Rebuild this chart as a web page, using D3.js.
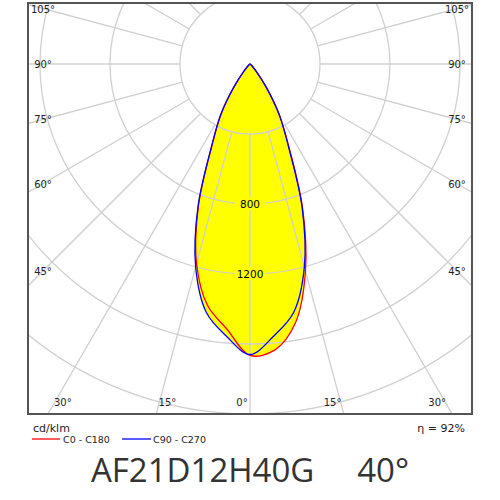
<!DOCTYPE html>
<html><head><meta charset="utf-8">
<script src="https://cdn.jsdelivr.net/npm/d3@7"></script>
<style>body{margin:0;background:#fff}</style></head>
<body><svg id="c" width="500" height="500"></svg>
<script>
const gammas = [0,5,10,15,20,25,30,35,40,45,50,60,70,80,90];
const c0   = [1665,1640,1500,1225,880,530,330,160,60,20,8,3,1,0,0];
const c180 = [1665,1520,1400,1180,860,515,330,160,60,20,8,3,1,0,0];
const c90  = [1660,1560,1440,1200,870,520,335,160,60,20,8,3,1,0,0];
const c270 = [1660,1560,1440,1200,870,520,335,160,60,20,8,3,1,0,0];
const ringValues = [400,800,1200,1600,2000,2400];
const ringLabels = [800,1200];
const spokeAngles = d3.range(-180,181,15);
const edgeLabels = [105,90,75,60,45,30,15,0];

const svg = d3.select("#c");
const box = {x0:28,y0:3,x1:472,y1:414};
const cx=250, cy=64;
const r = d3.scaleLinear().domain([0,2000]).range([0,350]);
const pt = (deg,v)=>{const a=deg*Math.PI/180;return [cx+r(v)*Math.sin(a), cy+r(v)*Math.cos(a)];};

svg.append("clipPath").attr("id","clip").append("rect")
 .attr("x",box.x0).attr("y",box.y0).attr("width",box.x1-box.x0).attr("height",box.y1-box.y0);
const g = svg.append("g").attr("clip-path","url(#clip)");

function curve(right,left){
  const pts=[];
  for(let i=gammas.length-1;i>=0;i--) pts.push(pt(-gammas[i],left[i]));
  for(let i=1;i<gammas.length;i++) pts.push(pt(gammas[i],right[i]));
  return d3.line().curve(d3.curveCatmullRom)(pts);
}
g.append("path").attr("d",curve(c0,c180)).attr("fill","#ffff00");
g.append("path").attr("d",curve(c90,c270)).attr("fill","#ffff00");

ringValues.forEach(v=>g.append("circle").attr("cx",cx).attr("cy",cy).attr("r",r(v))
  .attr("fill","none").attr("stroke","#d0d0d0").attr("stroke-width",1.3));
spokeAngles.forEach(a=>{const p0=pt(a,400),p1=pt(a,3000);
  g.append("line").attr("x1",p0[0]).attr("y1",p0[1]).attr("x2",p1[0]).attr("y2",p1[1])
   .attr("stroke","#d0d0d0").attr("stroke-width",1.3);});

ringLabels.forEach(v=>{const p=pt(0,v);
  g.append("rect").attr("x",p[0]-15).attr("y",p[1]-7).attr("width",30).attr("height",13).attr("fill","#ffff00");
  g.append("text").attr("x",p[0]).attr("y",p[1]+4).attr("text-anchor","middle")
   .attr("font-family","DejaVu Sans").attr("font-size",10.5).text(v);});

g.append("path").attr("d",curve(c0,c180)).attr("fill","none").attr("stroke","#ff0000").attr("stroke-width",1.3);
g.append("path").attr("d",curve(c90,c270)).attr("fill","none").attr("stroke","#0000ff").attr("stroke-width",1.3);

svg.append("rect").attr("x",box.x0).attr("y",box.y0).attr("width",box.x1-box.x0).attr("height",box.y1-box.y0)
 .attr("fill","none").attr("stroke","#555").attr("stroke-width",2);

// edge labels
const inner={x0:43,x1:457,y1:402};
edgeLabels.forEach(a=>{
  [1,-1].forEach(s=>{
    if(a===0&&s<0) return;
    const rad=a*Math.PI/180; let x,y;
    const dx=Math.sin(rad), dy=Math.cos(rad);
    const tB = dy>0 ? (inner.y1-cy)/dy : Infinity;
    const tS = (inner.x1-cx)/Math.abs(dx||1e-9);
    if(tB<tS){x=cx+s*dx*tB-s*8;y=inner.y1+4;} else {x=s>0?inner.x1:inner.x0;y=cy+dy*tS+4;}
    svg.append("text").attr("x",x).attr("y",y).attr("text-anchor","middle")
      .attr("font-family","DejaVu Sans").attr("font-size",10).attr("fill","#222").text(a+"°");
  });
});

svg.append("text").attr("x",33).attr("y",432).attr("font-family","DejaVu Sans").attr("font-size",11).attr("fill","#222").text("cd/klm");
svg.append("text").attr("x",465).attr("y",432).attr("text-anchor","end").attr("font-family","DejaVu Sans").attr("font-size",11).attr("fill","#222").text("η = 92%");
svg.append("line").attr("x1",32).attr("x2",60).attr("y1",439).attr("y2",439).attr("stroke","#ff0000").attr("stroke-width",1.3);
svg.append("text").attr("x",63).attr("y",443).attr("font-family","DejaVu Sans").attr("font-size",9.5).attr("fill","#222").text("C0 - C180");
svg.append("line").attr("x1",122).attr("x2",151).attr("y1",439).attr("y2",439).attr("stroke","#0000ff").attr("stroke-width",1.3);
svg.append("text").attr("x",153).attr("y",443).attr("font-family","DejaVu Sans").attr("font-size",9.5).attr("fill","#222").text("C90 - C270");
svg.append("text").attr("x",250).attr("y",482).attr("text-anchor","middle").attr("font-family","Open Sans").attr("font-size",33)
 .attr("fill","#333").attr("xml:space","preserve").style("white-space","pre").text("AF21D12H40G     40°");
</script></body></html>
